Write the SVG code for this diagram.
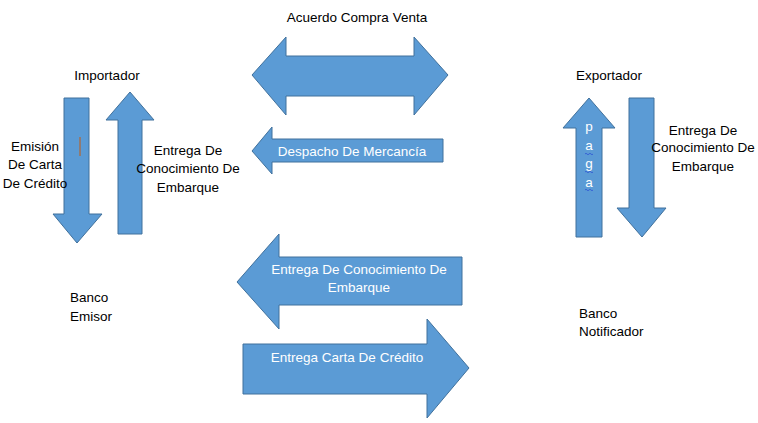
<svg xmlns="http://www.w3.org/2000/svg" width="758" height="423" viewBox="0 0 758 423">
<style>
.a{fill:#5B9BD5;stroke:#41719C;stroke-width:1}
.t{font-family:"Liberation Sans",Arial,sans-serif;font-size:13.5px;fill:#000}
.w{font-family:"Liberation Sans",Arial,sans-serif;font-size:13.5px;fill:#fff}
.c{text-anchor:middle}
.sq{fill:none;stroke:#2F55D4;stroke-width:0.8}
</style>
<rect width="758" height="423" fill="#fff"/>
<g id="importador"><text class="t c" x="107" y="80">Importador</text></g>
<g id="exportador"><text class="t c" x="609" y="80">Exportador</text></g>
<g id="banco-emisor"><text class="t" x="70" y="302">Banco</text><text class="t" x="70" y="321">Emisor</text></g>
<g id="banco-notificador"><text class="t" x="579" y="318">Banco</text><text class="t" x="579" y="336">Notificador</text></g>
<g id="connectors">
<g id="acuerdo">
<path class="a" d="M252,75 L286,37 L286,56 L414,56 L414,37 L448,75 L414,115 L414,96 L286,96 L286,115 Z"/>
<text class="t c" x="357" y="22">Acuerdo Compra Venta</text>
</g>
<g id="despacho">
<path class="a" d="M252,151 L272,127 L272,139 L443,139 L443,162 L272,162 L272,174 Z"/>
<text class="w c" x="352" y="156">Despacho De Mercancía</text>
</g>
<g id="emision">
<path class="a" d="M64,98 L89,98 L89,214 L102,214 L77,243 L53,214 L64,214 Z"/>
<line x1="80" y1="137" x2="80" y2="156" stroke="#C55A11" stroke-width="1"/>
<text class="t c" x="35" y="151">Emisión</text>
<text class="t c" x="35" y="169">De Carta</text>
<text class="t c" x="35" y="188">De Crédito</text>
</g>
<g id="entrega-imp">
<path class="a" d="M130,92 L154,120 L142,120 L142,234 L118,234 L118,120 L106,120 Z"/>
<text class="t c" x="188" y="155">Entrega De</text>
<text class="t c" x="188" y="173">Conocimiento De</text>
<text class="t c" x="188" y="192">Embarque</text>
</g>
<g id="paga">
<path class="a" d="M589,98 L615,128 L602,128 L602,237 L576,237 L576,128 L563,128 Z"/>
<text class="w c" x="589" y="131">p</text>
<text class="w c" x="589" y="150">a</text>
<text class="w c" x="589" y="168">g</text>
<text class="w c" x="589" y="187">a</text>
<path class="sq" d="M585,154 q1,-1.5 2,0 t2,0 t2,0 t2,0"/>
<path class="sq" d="M585,172 q1,-1.5 2,0 t2,0 t2,0 t2,0"/>
<path class="sq" d="M585,190 q1,-1.5 2,0 t2,0 t2,0 t2,0"/>
</g>
<g id="entrega-exp">
<path class="a" d="M629,98 L654,98 L654,208 L666,208 L642,237 L617,208 L629,208 Z"/>
<text class="t c" x="703" y="135">Entrega De</text>
<text class="t c" x="703" y="152">Conocimiento De</text>
<text class="t c" x="703" y="171">Embarque</text>
</g>
<g id="entrega-conoc">
<path class="a" d="M237,282 L279,234 L279,257 L462,257 L462,305 L279,305 L279,329 Z"/>
<text class="w c" x="359" y="274">Entrega De Conocimiento De</text>
<text class="w c" x="359" y="292">Embarque</text>
</g>
<g id="entrega-carta">
<path class="a" d="M243,344 L427,344 L427,319 L469,368 L427,418 L427,394 L243,394 Z"/>
<text class="w c" x="347" y="362">Entrega Carta De Crédito</text>
</g>
</g>
</svg>
